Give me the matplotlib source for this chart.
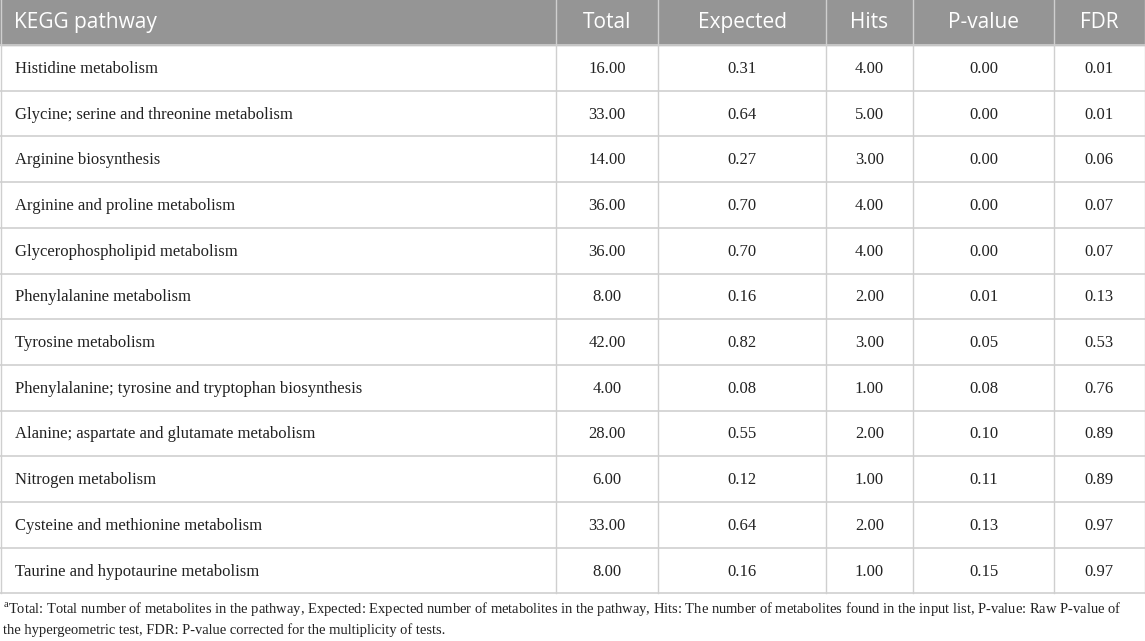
import matplotlib.pyplot as plt

plt.rcParams["mathtext.fontset"] = "custom"
plt.rcParams["mathtext.rm"] = "Liberation Serif"

# table contents
columns = ["KEGG pathway", "Total", "Expected", "Hits", "P-value", "FDR"]
pathways = [
    "Histidine metabolism",
    "Glycine; serine and threonine metabolism",
    "Arginine biosynthesis",
    "Arginine and proline metabolism",
    "Glycerophospholipid metabolism",
    "Phenylalanine metabolism",
    "Tyrosine metabolism",
    "Phenylalanine; tyrosine and tryptophan biosynthesis",
    "Alanine; aspartate and glutamate metabolism",
    "Nitrogen metabolism",
    "Cysteine and methionine metabolism",
    "Taurine and hypotaurine metabolism",
]
total = [16, 33, 14, 36, 36, 8, 42, 4, 28, 6, 33, 8]
expected = [0.31, 0.64, 0.27, 0.70, 0.70, 0.16, 0.82, 0.08, 0.55, 0.12, 0.64, 0.16]
hits = [4, 5, 3, 4, 4, 2, 3, 1, 2, 1, 2, 1]
pvalue = [0.00, 0.00, 0.00, 0.00, 0.00, 0.01, 0.05, 0.08, 0.10, 0.11, 0.13, 0.15]
fdr = [0.01, 0.01, 0.06, 0.07, 0.07, 0.13, 0.53, 0.76, 0.89, 0.89, 0.97, 0.97]
footnote = ("$^{\\mathrm{a}}$Total: Total number of metabolites in the pathway, Expected: Expected number of "
            "metabolites in the pathway, Hits: The number of metabolites found in the input list, P-value: Raw P-value of\n"
            "the hypergeometric test, FDR: P-value corrected for the multiplicity of tests.")

W, H = 1145, 641
fig = plt.figure(figsize=(W / 100, H / 100), dpi=100)
ax = fig.add_axes([0, 0, 1, 1])
ax.set_xlim(0, W)
ax.set_ylim(H, 0)
ax.axis("off")

col_edges = [0.5, 556, 658, 826, 913, 1054, 1144.5]
head_h = 45
row_h = 45.7
n = len(pathways)
bottom = head_h + n * row_h

grid = "#cfcfcf"
ax.add_patch(plt.Rectangle((0, 0), W, head_h, color="#959595", zorder=0))

for i in range(n + 1):
    y = head_h + i * row_h
    ax.plot([0, W], [y, y], color=grid, lw=1.2, zorder=2)
for x in col_edges:
    ax.plot([x, x], [0, bottom], color=grid, lw=1.0, zorder=1)

hfont = dict(family="Open Sans", size=15, color="white", va="center")
ax.text(14, head_h / 2, columns[0], ha="left", **hfont)
for j, name in enumerate(columns[1:], start=1):
    xc = (col_edges[j] + col_edges[j + 1]) / 2
    ax.text(xc, head_h / 2, name, ha="center", **hfont)

bfont = dict(family="Liberation Serif", size=12, color="#222222", va="center")
for i in range(n):
    yc = head_h + (i + 0.5) * row_h + 1
    ax.text(15, yc, pathways[i], ha="left", **bfont)
    vals = [total[i], expected[i], hits[i], pvalue[i], fdr[i]]
    for j, v in enumerate(vals, start=1):
        xc = (col_edges[j] + col_edges[j + 1]) / 2
        ax.text(xc, yc, f"{v:.2f}", ha="center", **bfont)

ax.text(3, bottom + 7, footnote, ha="left", va="top", family="Liberation Serif",
        size=10.45, color="#222222", linespacing=1.45)

fig.savefig("out.png", dpi=100)
